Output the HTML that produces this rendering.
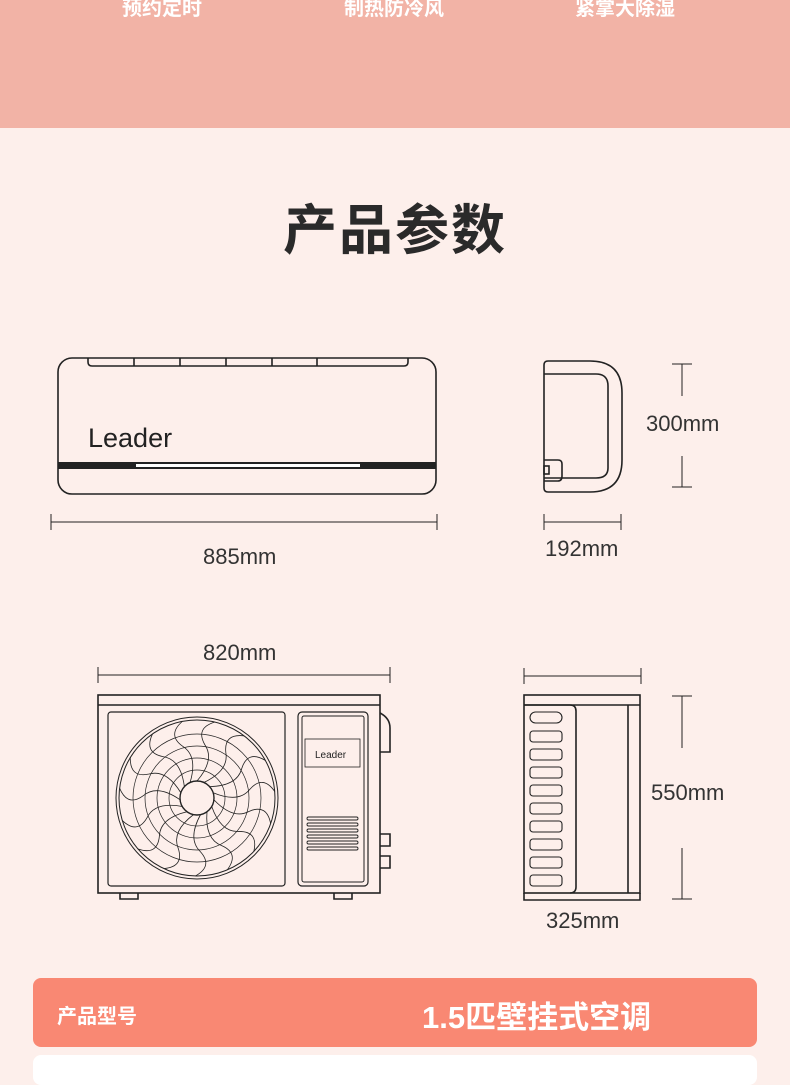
<!DOCTYPE html>
<html><head><meta charset="utf-8"><style>
html,body{margin:0;padding:0}
body{width:790px;height:1066px;background:#fdefeb;position:relative;overflow:hidden;font-family:"Liberation Sans","Noto Sans CJK SC",sans-serif}
.top{position:absolute;left:0;top:0;width:790px;height:128px;background:#f2b3a6}
.top span{position:absolute;top:-8px;font-size:20px;color:#fff;font-weight:bold}
h1{position:absolute;top:196px;left:0;width:790px;text-align:center;margin:0;font-size:54px;font-weight:bold;color:#2a2a2a;letter-spacing:2px;line-height:70px}
.lbl{position:absolute;font-size:22px;color:#333}
.bar{position:absolute;left:33px;top:978px;width:724px;height:69px;background:#f98873;border-radius:8px}
.bar .a{position:absolute;left:24px;top:22px;color:#fff;font-size:20px;font-weight:bold}
.bar .b{position:absolute;left:389px;top:14px;color:#fff;font-size:31px;font-weight:bold}
.white{position:absolute;left:33px;top:1055px;width:724px;height:30px;background:#fff;border-radius:8px}
svg{position:absolute;left:0;top:0}
</style></head><body>
<div class="top"><span style="left:122px">预约定时</span><span style="left:344px">制热防冷风</span><span style="left:575px">紧掌大除湿</span></div>
<h1>产品参数</h1>
<svg width="790" height="1066" fill="none" stroke="#222" stroke-width="1.6">
<rect x="58" y="358" width="378" height="136" rx="14"/>
<path d="M88 358 V362 Q88 366 92 366 H404 Q408 366 408 362 V358"/>
<path d="M134 358V366M180 358V366M226 358V366M272 358V366M317 358V366"/>
<rect x="58" y="462" width="378" height="7" fill="#222" stroke="none"/>
<rect x="136" y="464" width="224" height="3" fill="#fff" stroke="none"/>
<text x="88" y="447" font-size="27" fill="#222" stroke="none" font-family="Liberation Sans">Leader</text>
<path d="M548 361 H590 Q622 361 622 393 V460 Q622 492 590 492 H548 Q544 492 544 488 V365 Q544 361 548 361Z"/>
<path d="M544 374 H596 Q608 374 608 386 V468 Q608 478 596 478 H544"/>
<path d="M544 460 H558 Q562 460 562 464 V476 Q562 481 558 481 H544"/>
<rect x="544" y="466" width="5" height="8"/>
<g stroke-width="1">
<path d="M51 522H437M51 514V530M437 514V530"/>
<path d="M544 522H621M544 514V530M621 514V530"/>
<path d="M672 364H692M682 364V396M682 456V487M672 487H692"/>
<path d="M98 675H390M98 667V683M390 667V683"/>
<path d="M524 676H641M524 668V684M641 668V684"/>
<path d="M672 696H692M682 696V748M682 848V899M672 899H692"/>
</g>
<rect x="98" y="695" width="282" height="198"/>
<path d="M98 705H380"/>
<rect x="108" y="712" width="177" height="174" rx="3" stroke-width="1.2"/>
<rect x="298" y="712" width="70" height="174" rx="4" stroke-width="1.2"/>
<rect x="302" y="716" width="62" height="166" rx="2" stroke-width="1"/>
<rect x="305" y="739" width="55" height="28" stroke-width="0.8"/>
<text x="315" y="758" font-size="10" fill="#222" stroke="none">Leader</text>
<g stroke-width="0.9"><rect x="307" y="817" width="51" height="3" rx="1.5"/><rect x="307" y="823" width="51" height="3" rx="1.5"/><rect x="307" y="829" width="51" height="3" rx="1.5"/><rect x="307" y="835" width="51" height="3" rx="1.5"/><rect x="307" y="841" width="51" height="3" rx="1.5"/><rect x="307" y="847" width="51" height="3" rx="1.5"/></g>
<path d="M380 713 Q390 718 390 728 V752 H380"/>
<path d="M380 834H390V846H380M380 856H390V868H380"/>
<path d="M120 893V899H138V893M334 893V899H352V893"/>
<g stroke-width="1">
<circle cx="197" cy="798" r="81"/><circle cx="197" cy="798" r="78"/>
<circle cx="197" cy="798" r="17" stroke-width="1.4"/>
<circle cx="197" cy="798" r="28" stroke-width="0.7"/><circle cx="197" cy="798" r="40" stroke-width="0.7"/><circle cx="197" cy="798" r="52" stroke-width="0.7"/><circle cx="197" cy="798" r="64" stroke-width="0.7"/>
<defs><path id="sp" d="M197 781 Q215 760 205 745 Q195 728 215 722" stroke-width="0.8"/></defs>
<g>
<use href="#sp"/><use href="#sp" transform="rotate(24 197 798)"/><use href="#sp" transform="rotate(48 197 798)"/><use href="#sp" transform="rotate(72 197 798)"/><use href="#sp" transform="rotate(96 197 798)"/><use href="#sp" transform="rotate(120 197 798)"/><use href="#sp" transform="rotate(144 197 798)"/><use href="#sp" transform="rotate(168 197 798)"/><use href="#sp" transform="rotate(192 197 798)"/><use href="#sp" transform="rotate(216 197 798)"/><use href="#sp" transform="rotate(240 197 798)"/><use href="#sp" transform="rotate(264 197 798)"/><use href="#sp" transform="rotate(288 197 798)"/><use href="#sp" transform="rotate(312 197 798)"/><use href="#sp" transform="rotate(336 197 798)"/>
</g>
</g>
<rect x="524" y="695" width="116" height="198"/>
<path d="M524 705H640M628 705V893M524 893V900H640V893"/>
<path d="M524 705H570Q576 705 576 711V887Q576 893 570 893"/>
<g stroke-width="1.1">
<rect x="530" y="712" width="32" height="11" rx="5.5"/>
<rect x="530" y="731" width="32" height="11" rx="3"/><rect x="530" y="749" width="32" height="11" rx="3"/><rect x="530" y="767" width="32" height="11" rx="3"/><rect x="530" y="785" width="32" height="11" rx="3"/><rect x="530" y="803" width="32" height="11" rx="3"/><rect x="530" y="821" width="32" height="11" rx="3"/><rect x="530" y="839" width="32" height="11" rx="3"/><rect x="530" y="857" width="32" height="11" rx="3"/><rect x="530" y="875" width="32" height="11" rx="3"/>
</g>
</svg>
<div class="lbl" style="left:203px;top:544px">885mm</div>
<div class="lbl" style="left:545px;top:536px">192mm</div>
<div class="lbl" style="left:646px;top:411px">300mm</div>
<div class="lbl" style="left:203px;top:640px">820mm</div>
<div class="lbl" style="left:651px;top:780px">550mm</div>
<div class="lbl" style="left:546px;top:908px">325mm</div>
<div class="bar"><span class="a">产品型号</span><span class="b">1.5匹壁挂式空调</span></div>
<div class="white"></div>
</body></html>
